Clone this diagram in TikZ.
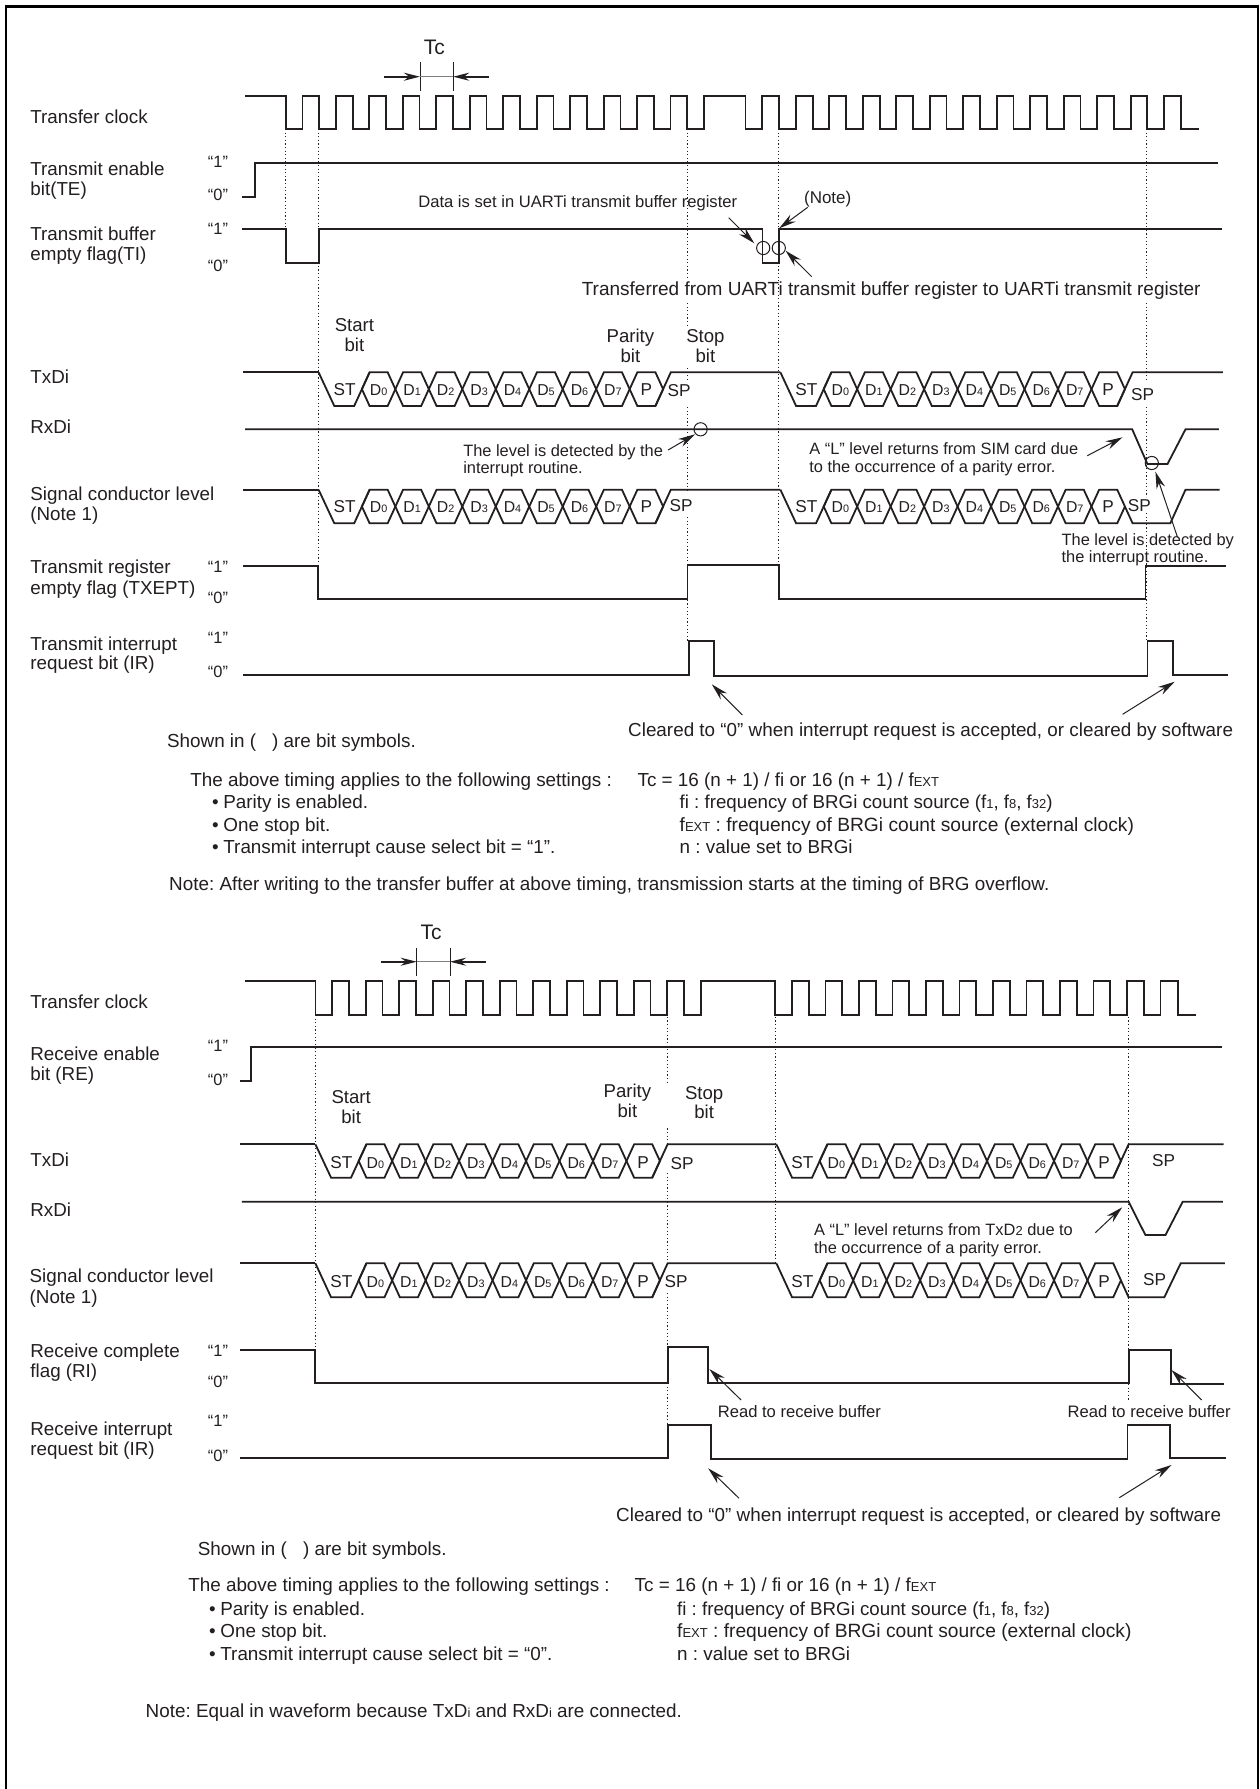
\documentclass[tikz,border=0pt]{standalone}
\usepackage{fontspec}
\setmainfont{Liberation Sans}
\usetikzlibrary{arrows.meta}
\definecolor{ink}{HTML}{231F20}
\frenchspacing
\newcommand\Sm[1]{{\fontsize{6.5}{7}\selectfont #1}}
\newcommand\Dg[1]{{\fontsize{7.9}{8}\selectfont D}{\fontsize{5.4}{6}\selectfont #1}}
\tikzset{
  wave/.style={draw=ink,line width=.9pt,line join=miter},
  guide/.style={draw=ink,line width=.35pt,dash pattern=on .6pt off 1.2pt},
  ptr/.style={draw=ink,line width=.5pt,-{Stealth[length=8.5pt,width=4.4pt]}},
  tcptr/.style={draw=ink,line width=.9pt,-{Stealth[length=8pt,width=4pt]}},
  tick/.style={draw=ink,line width=.4pt},
  ring/.style={circle,draw=ink,line width=.5pt,minimum size=6.6pt,inner sep=0pt},
  txt/.style={anchor=base west,inner sep=0pt,text=ink,yshift=-3pt},
  ctr/.style={anchor=base,inner sep=0pt,text=ink,yshift=-3pt},
  hexbox/.style={draw=ink,line width=.9pt,line join=miter}
}
% left aligned text: name, x, y, size, text
\newcommand\Txt[5]{\node[txt,font=\fontsize{#4}{#4}\selectfont] (#1) at (#2,#3) {#5};}
% centred text
\newcommand\Ctr[5]{\node[ctr,font=\fontsize{#4}{#4}\selectfont] (#1) at (#2,#3) {#5};}
% arrow with named ends
\newcommand\Ptr[5]{\coordinate (#1a) at (#2,#3); \coordinate (#1b) at (#4,#5); \draw[ptr] (#1a) -- (#1b);}
% serial frame: prefix, fall x, top y, bottom y, text y
\newcommand\Frame[5]{%
  \pgfmathsetmacro\vz{#2+43.3}%
  \draw[hexbox] (#2,#3) -- ({#2+15.7},#4) -- ({\vz-7.7},#4) -- ({\vz+7.7},#3);
  \foreach \k/\lab in {0/\Dg{0},1/\Dg{1},2/\Dg{2},3/\Dg{3},4/\Dg{4},5/\Dg{5},6/\Dg{6},7/\Dg{7},8/P}{%
    \pgfmathsetmacro\va{\vz+33.47*\k}%
    \pgfmathsetmacro\vb{\vz+33.47*(\k+1)}%
    \pgfmathsetmacro\ym{(#3+#4)/2}%
    \draw[hexbox] (\va,\ym) -- ({\va+7.7},#3) -- ({\vb-7.7},#3) -- (\vb,\ym) -- ({\vb-7.7},#4) -- ({\va+7.7},#4) -- cycle;
    \node[ctr,font=\fontsize{8.6}{8}\selectfont] (#1bit\k) at ({(\va+\vb)/2},#5) {\lab};
  }
  \node[ctr,font=\fontsize{8.6}{8}\selectfont] (#1st) at ({#2+26},#5) {ST};
}
\begin{document}
\begin{tikzpicture}[x=.5pt,y=-.5pt]
\useasboundingbox (0,0) rectangle (1259,1789);
\fill[white] (0,0) rectangle (1259,1789);
% frame
\draw[draw=black,line width=1.2pt] (6.2,1789) -- (6.2,6.5) -- (1259,6.5);
\draw[draw=black,line width=1pt] (1258,6.5) -- (1258,1789);

%%%%%%%%%%%%%%%%%%% guides top
\draw[guide] (285.7,129) -- (285.7,229);
\draw[guide] (318.6,129) -- (318.6,566);
\draw[guide] (687.4,129) -- (687.4,280) (687.4,303) -- (687.4,326) (687.4,368) -- (687.4,382) (687.4,407) -- (687.4,492) (687.4,517) -- (687.4,641);
\draw[guide] (778.6,129) -- (778.6,566);
\draw[guide] (1146.6,129) -- (1146.6,280) (1146.6,303) -- (1146.6,380) (1146.6,407) -- (1146.6,497) (1146.6,513) -- (1146.6,641);

%%%%%%%%%%%%%%%%%%% top: clock
\Ctr{tctop}{434.4}{48.5}{10.5}{Tc}
\draw[tick] (419.9,62.3) -- (419.9,90.7) (453.2,62.3) -- (453.2,90.7);
\draw[draw=gray,line width=.6pt] (419.9,76.7) -- (453.2,76.7);
\coordinate (tcal) at (384.1,76.7); \coordinate (tcar) at (489,76.7);
\coordinate (tcbl) at (419.9,76.7); \coordinate (tcbr) at (453.2,76.7);
\draw[tcptr] (tcal) -- (tcbl);
\draw[tcptr] (tcar) -- (tcbr);
\draw[wave] (245,96) -- (285.7,96) foreach \k in {0,...,12}{ -- ({285.7+33.47*\k},96) -- ({285.7+33.47*\k},129.3) -- ({302.4+33.47*\k},129.3) -- ({302.4+33.47*\k},96) } -- (745.5,96) -- (745.5,129.3) -- (762.3,129.3) -- (762.3,96) foreach \k in {0,...,11}{ -- ({779.2+33.47*\k},96) -- ({779.2+33.47*\k},129.3) -- ({795.9+33.47*\k},129.3) -- ({795.9+33.47*\k},96) } -- (1180.8,96) -- (1180.8,129.3) -- (1198.8,129.3);
\Txt{lclk}{30}{117.3}{9.4}{Transfer clock}
% TE
\Txt{lte}{30}{169}{9.4}{Transmit enable}
\Txt{lteb}{30}{189.3}{9.4}{bit(TE)}
\Ctr{te1}{218}{161.3}{8.2}{“1”}
\Ctr{te0}{218}{194}{8.2}{“0”}
\draw[wave] (242.3,196.7) -- (254.7,196.7) -- (254.7,162.7) -- (1217.6,162.7);
% TI
\Txt{lti}{30}{234}{9.4}{Transmit buffer}
\Txt{ltib}{30}{254.7}{9.4}{empty flag(TI)}
\Ctr{ti1}{218}{228}{8.2}{“1”}
\Ctr{ti0}{218}{265}{8.2}{“0”}
\draw[wave] (242.3,229.3) -- (285.7,229.3) -- (285.7,263.3) -- (318.6,263.3) -- (318.6,229.3) -- (762.4,229.3) -- (762.4,263.3) -- (779.2,263.3) -- (779.2,229.3) -- (1221.6,229.3);
\node[ring] (ca) at (763.2,248) {};
\node[ring] (cb) at (778.8,248) {};
\Txt{tdata}{417.9}{201.7}{8.3}{Data is set in UARTi transmit buffer register}
\Txt{tnote}{803.7}{197}{8.5}{(Note)}
\Txt{ttrans}{581.4}{289}{9.5}{Transferred from UARTi transmit buffer register to UARTi transmit register}
\Ptr{pa}{728.7}{217.7}{754.3}{243.3}
\Ptr{pb}{807.7}{207.3}{779.2}{228.3}
\Ptr{pc}{811.7}{276.7}{785.6}{250.7}
% bit names
\Ctr{ts1}{354.4}{325}{9.3}{Start}
\Ctr{ts2}{354.4}{345}{9.3}{bit}
\Ctr{tp1}{630.4}{336}{9.3}{Parity}
\Ctr{tp2}{630.4}{356}{9.3}{bit}
\Ctr{tq1}{705.4}{336}{9.3}{Stop}
\Ctr{tq2}{705.4}{356}{9.3}{bit}
% TxD
\Txt{ltx}{30}{377.3}{9.4}{TxDi}
\Frame{ta}{318.6}{372.3}{406}{389}
\Frame{tb}{780.4}{372.3}{406}{389}
\draw[wave] (243,372.3) -- (318.6,372.3);
\draw[wave] (655.4,406) -- (670.8,372.3) -- (780.4,372.3);
\draw[wave] (1117.2,406) -- (1132.6,372.3) -- (1222.8,372.3);
\Ctr{tsp1}{679}{390}{8.6}{SP}
\Ctr{tsp2}{1142.6}{394}{8.6}{SP}
% RxD
\Txt{lrx}{30}{427.3}{9.4}{RxDi}
\draw[wave] (245,429.3) -- (1132.2,429.3) -- (1147.4,464) -- (1167.5,464) -- (1185.5,429.3) -- (1218.8,429.3);
\node[ring] (cc) at (700.6,429.3) {};
\node[ring] (cd) at (1151.8,463) {};
\Txt{tl1}{462.9}{450}{8.2}{The level is detected by the}
\Txt{tl2}{462.9}{467.7}{8.2}{interrupt routine.}
\Txt{tl3}{808.9}{448.3}{8.2}{A “L” level returns from SIM card due}
\Txt{tl4}{808.9}{466.7}{8.2}{to the occurrence of a parity error.}
\Ptr{pd}{668.1}{450}{695}{434.3}
\Ptr{pe}{1087.3}{455.7}{1122.5}{437.3}
\Ptr{pf}{1177.5}{537.3}{1155.4}{471.7}
% signal
\Txt{lsg}{30}{494}{9.4}{Signal conductor level}
\Txt{lsgb}{30}{514}{9.4}{(Note 1)}
\Frame{sa}{318.6}{489.7}{523.3}{506}
\Frame{sb}{780.4}{489.7}{523.3}{506}
\draw[wave] (243,489.7) -- (318.6,489.7);
\draw[wave] (655.4,523.3) -- (670.8,489.7) -- (780.4,489.7);
\draw[wave] (1124.9,506.5) -- (1132.6,523.3) -- (1170.3,523.3) -- (1185.5,489.7) -- (1219.6,489.7);
\Ctr{ssp1}{681}{505}{8.6}{SP}
\Ctr{ssp2}{1139.4}{505}{8.6}{SP}
\Txt{tl5}{1061.2}{539.3}{8.2}{The level is detected by}
\Txt{tl6}{1061.2}{556.7}{8.2}{the interrupt routine.}
% TXEPT
\Txt{ltr}{30}{567.7}{9.4}{Transmit register}
\Txt{ltrb}{30}{588.3}{9.4}{empty flag (TXEPT)}
\Ctr{tr1}{218}{566.7}{8.2}{“1”}
\Ctr{tr0}{218}{597}{8.2}{“0”}
\draw[wave] (243,566) -- (318.2,566) -- (318.2,599) -- (687.4,599) -- (687.4,565) -- (779.2,565) -- (779.2,599) -- (1145.4,599) -- (1145.4,566) -- (1225.6,566);
% IR
\Txt{lir}{30}{644}{9.4}{Transmit interrupt}
\Txt{lirb}{30}{663.3}{9.4}{request bit (IR)}
\Ctr{ir1}{218}{637.3}{8.2}{“1”}
\Ctr{ir0}{218}{671.7}{8.2}{“0”}
\draw[wave] (243,675) -- (688.6,675) -- (688.6,641) -- (713.8,641) -- (713.8,676) -- (1147.4,676) -- (1147.4,641) -- (1173,641) -- (1173,675) -- (1227.6,675);
\Ptr{pg}{742.3}{715}{711.8}{684.3}
\Ptr{ph}{1122.6}{714.3}{1174.7}{681.7}
\Txt{tcl}{627.8}{730.7}{9.43}{Cleared to “0” when interrupt request is accepted, or cleared by software}
% legend
\Txt{tsh}{166.7}{741.7}{9.43}{Shown in (\hspace{.85em}) are bit symbols.}
\Txt{tab}{190}{780}{9.43}{The above timing applies to the following settings :}
\Txt{tb1}{211.7}{802.7}{9.43}{•}
\Txt{tb2}{211.7}{825}{9.43}{•}
\Txt{tb3}{211.7}{847}{9.43}{•}
\Txt{tt1}{223}{802.7}{9.43}{Parity is enabled.}
\Txt{tt2}{223}{825}{9.43}{One stop bit.}
\Txt{tt3}{223}{847}{9.43}{Transmit interrupt cause select bit = “1”.}
\Txt{tf0}{637.2}{780}{9.43}{Tc = 16 (n + 1) / fi or 16 (n + 1) / f\Sm{EXT}}
\Txt{tf1}{679.3}{802.7}{9.35}{fi : frequency of BRGi count source (f\Sm{1}, f\Sm{8}, f\Sm{32})}
\Txt{tf2}{679.3}{825}{9.6}{f\Sm{EXT} : frequency of BRGi count source (external clock)}
\Txt{tf3}{679.3}{847}{9.43}{n : value set to BRGi}
\Txt{tnt}{168.8}{884}{9.43}{Note: After writing to the transfer buffer at above timing, transmission starts at the timing of BRG overflow.}

%%%%%%%%%%%%%%%%%%% bottom: guides
\draw[guide] (315,1015) -- (315,1350);
\draw[guide] (666.9,1016.7) -- (666.9,1082.7) (666.9,1128.3) -- (666.9,1145) (666.9,1173) -- (666.9,1260) (666.9,1293) -- (666.9,1425);
\draw[guide] (775.2,1016.7) -- (775.2,1263.3);
\draw[guide] (1128.6,1016.7) -- (1128.6,1401.7);
% clock
\Ctr{bctc}{431.1}{933}{10.5}{Tc}
\draw[tick] (416.7,947.7) -- (416.7,975.7) (450,947.7) -- (450,975.7);
\draw[draw=gray,line width=.6pt] (416.7,961.7) -- (450,961.7);
\coordinate (bcal) at (381,961.7); \coordinate (bcar) at (486.2,961.7);
\coordinate (bcbl) at (416.7,961.7); \coordinate (bcbr) at (450,961.7);
\draw[tcptr] (bcal) -- (bcbl);
\draw[tcptr] (bcar) -- (bcbr);
\draw[wave] (245,980.7) foreach \k in {0,...,11}{ -- ({315.4+33.5*\k},980.7) -- ({315.4+33.5*\k},1014.7) -- ({332.1+33.5*\k},1014.7) -- ({332.1+33.5*\k},980.7) } foreach \k in {0,...,11}{ -- ({775.2+33.5*\k},980.7) -- ({775.2+33.5*\k},1014.7) -- ({791.9+33.5*\k},1014.7) -- ({791.9+33.5*\k},980.7) } -- (1177.8,980.7) -- (1177.8,1014.7) -- (1195.5,1014.7);
\Txt{blclk}{30}{1002.5}{9.4}{Transfer clock}
% RE
\Txt{blre}{30}{1054}{9.4}{Receive enable}
\Txt{blreb}{30}{1074}{9.4}{bit (RE)}
\Ctr{re1}{218}{1045.7}{8.2}{“1”}
\Ctr{re0}{218}{1079}{8.2}{“0”}
\draw[wave] (239.9,1081) -- (251.1,1081) -- (251.1,1047.3) -- (1222.4,1047.3);
% names
\Ctr{bs1}{351.2}{1097.7}{9.3}{Start}
\Ctr{bs2}{351.2}{1117.7}{9.3}{bit}
\Ctr{bp1}{627.4}{1091.7}{9.3}{Parity}
\Ctr{bp2}{627.4}{1111.7}{9.3}{bit}
\Ctr{bq1}{704.2}{1093.3}{9.3}{Stop}
\Ctr{bq2}{704.2}{1112.7}{9.3}{bit}
% TxD
\Txt{bltx}{30}{1160}{9.4}{TxDi}
\Frame{ua}{315.4}{1144.3}{1177.7}{1162.5}
\Frame{ub}{776.4}{1144.3}{1177.7}{1162.5}
\draw[wave] (239.9,1144.3) -- (315.4,1144.3);
\draw[wave] (652.2,1177.7) -- (667.6,1144.3) -- (776.4,1144.3);
\draw[wave] (1113.2,1177.7) -- (1128.6,1144.3) -- (1223.6,1144.3);
\Ctr{usp1}{682.1}{1163.3}{8.6}{SP}
\Ctr{usp2}{1163.5}{1160.7}{8.6}{SP}
% RxD
\Txt{blrx}{30}{1210.7}{9.4}{RxDi}
\draw[wave] (241.9,1201.7) -- (1128.6,1201.7) -- (1145.4,1235) -- (1165.5,1235) -- (1182.7,1201.7) -- (1222.9,1201.7);
\Txt{bl1}{813.7}{1229.3}{8.2}{A “L” level returns from TxD\Sm{2} due to}
\Txt{bl2}{813.7}{1247.7}{8.2}{the occurrence of a parity error.}
\Ptr{pi}{1095.3}{1232.7}{1122.2}{1207.3}
% signal
\Txt{blsg}{29.3}{1276.7}{9.4}{Signal conductor level}
\Txt{blsgb}{29.3}{1297.3}{9.4}{(Note 1)}
\Frame{va}{315.4}{1263.3}{1297.3}{1281}
\Frame{vb}{776.4}{1263.3}{1297.3}{1281}
\draw[wave] (239.9,1263.3) -- (315.4,1263.3);
\draw[wave] (652.2,1297.3) -- (667.6,1263.3) -- (776.4,1263.3);
\draw[wave] (1120.9,1280.3) -- (1128.6,1297.3) -- (1164.3,1297.3) -- (1180.7,1263.3) -- (1224.8,1263.3);
\Ctr{vsp1}{676.1}{1281.7}{8.6}{SP}
\Ctr{vsp2}{1154.6}{1279.3}{8.6}{SP}
% RI
\Txt{blri}{30}{1351}{9.4}{Receive complete}
\Txt{blrib}{30}{1371.7}{9.4}{flag (RI)}
\Ctr{ri1}{218}{1350}{8.2}{“1”}
\Ctr{ri0}{218}{1381.7}{8.2}{“0”}
\draw[wave] (239.9,1349.7) -- (314.6,1349.7) -- (314.6,1383) -- (668.1,1383) -- (668.1,1346.7) -- (708.2,1346.7) -- (708.2,1383) -- (1128.6,1383) -- (1128.6,1349.7) -- (1170.7,1349.7) -- (1170.7,1384) -- (1223.6,1384);
\Ptr{pj}{741.1}{1400}{709.4}{1369}
\Ptr{pk}{1201.6}{1400}{1171.5}{1370}
\Txt{br1}{717.4}{1411.7}{8.3}{Read to receive buffer}
\Txt{br2}{1067.2}{1411.7}{8.3}{Read to receive buffer}
% IR
\Txt{blir}{30}{1429}{9.4}{Receive interrupt}
\Txt{blirb}{30}{1449}{9.4}{request bit (IR)}
\Ctr{bir1}{218}{1420}{8.2}{“1”}
\Ctr{bir0}{218}{1455}{8.2}{“0”}
\draw[wave] (239.9,1458.3) -- (668.1,1458.3) -- (668.1,1425) -- (710.6,1425) -- (710.6,1459) -- (1127.4,1459) -- (1127.4,1425) -- (1169.9,1425) -- (1169.9,1458.3) -- (1225.6,1458.3);
\Ptr{pl}{739.1}{1498.3}{708.2}{1468.3}
\Ptr{pm}{1119.3}{1497.7}{1171.5}{1465}
\Txt{bcl}{615.8}{1515.7}{9.43}{Cleared to “0” when interrupt request is accepted, or cleared by software}
% legend
\Txt{bsh}{197.5}{1549}{9.43}{Shown in (\hspace{.85em}) are bit symbols.}
\Txt{bab}{187.9}{1585.7}{9.43}{The above timing applies to the following settings :}
\Txt{bb1}{208.8}{1609}{9.43}{•}
\Txt{bb2}{208.8}{1631.3}{9.43}{•}
\Txt{bb3}{208.8}{1654}{9.43}{•}
\Txt{bt1}{220}{1609}{9.43}{Parity is enabled.}
\Txt{bt2}{220}{1631.3}{9.43}{One stop bit.}
\Txt{bt3}{220}{1654}{9.43}{Transmit interrupt cause select bit = “0”.}
\Txt{bf0}{634.3}{1585.7}{9.43}{Tc = 16 (n + 1) / fi or 16 (n + 1) / f\Sm{EXT}}
\Txt{bf1}{676.8}{1609}{9.35}{fi : frequency of BRGi count source (f\Sm{1}, f\Sm{8}, f\Sm{32})}
\Txt{bf2}{676.8}{1631.3}{9.6}{f\Sm{EXT} : frequency of BRGi count source (external clock)}
\Txt{bf3}{676.8}{1654}{9.43}{n : value set to BRGi}
\Txt{bnt}{145.3}{1711.7}{9.43}{Note: Equal in waveform because TxD\Sm{i} and RxD\Sm{i} are connected.}
\end{tikzpicture}
\end{document}
